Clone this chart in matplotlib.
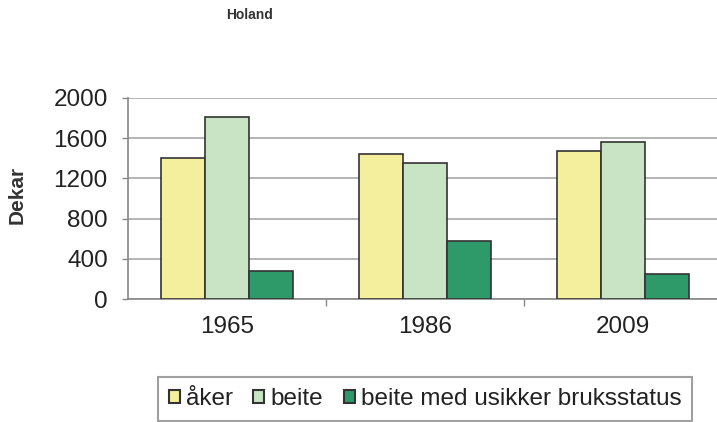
import matplotlib
matplotlib.use("Agg")
import matplotlib.pyplot as plt
import numpy as np

plt.rcParams['font.family'] = ['Liberation Sans', 'DejaVu Sans']

years = ["1965", "1986", "2009"]
series_names = ["åker", "beite", "beite med usikker bruksstatus"]
aker = [1400, 1440, 1470]
beite = [1810, 1350, 1560]
usikker = [280, 580, 250]
yticks = [0, 400, 800, 1200, 1600, 2000]

colors = ["#F3EF9C", "#C8E4C4", "#2E9A6A"]

fig = plt.figure(figsize=(7.17, 4.22), dpi=100)
fig.patch.set_facecolor("white")
ax = fig.add_axes([128/717, 1-299/422, 1-128/717, (299-98)/422])

x = np.arange(len(years))
w = 0.222
for i, (vals, name, c) in enumerate(zip([aker, beite, usikker], series_names, colors)):
    ax.bar(x + (i-1)*w, vals, width=w, color=c, edgecolor="#333333", linewidth=1.2,
           label=name, zorder=3)

ax.set_xlim(-0.5, -0.5 + (717-128)/198)
ax.set_ylim(0, 2000)
ax.set_yticks(yticks)
ax.set_yticklabels([str(v) for v in yticks], fontsize=17.5, color="#222222")
ax.yaxis.grid(True, color="#A8A8A8", linewidth=1.2, zorder=0)
ax.set_xticks(x)
ax.set_xticklabels(years, fontsize=17.5, color="#222222")
ax.tick_params(axis='x', length=0, pad=12)
ax.set_xticks([0.5, 1.5], minor=True)
ax.tick_params(axis='x', which='minor', length=5, color="#888888", width=1)
ax.tick_params(axis='y', length=4.5, color="#888888", width=1, pad=10, direction='out')

for s in ["top", "right"]:
    ax.spines[s].set_visible(False)
for s in ["left", "bottom"]:
    ax.spines[s].set_color("#888888")
    ax.spines[s].set_linewidth(1.2)

fig.text(17/717, 1-195/422, "Dekar", fontsize=15, fontweight="bold", color="#333333",
         rotation=90, ha="center", va="center")
fig.text(250/717, 1-15/422, "Holand", fontsize=10, fontweight="bold", color="#333333",
         ha="center", va="center")

leg = fig.legend(loc="upper center", bbox_to_anchor=(425/717, 1-377/422), ncol=3,
                 fontsize=17.5, frameon=True, fancybox=False, edgecolor="#888888",
                 handlelength=0.45, handleheight=0.45, handletextpad=0.25,
                 columnspacing=0.85, borderpad=0.45, borderaxespad=0)
leg.get_frame().set_linewidth(1.5)
for t in leg.get_texts():
    t.set_color("#222222")
for h in leg.legend_handles:
    h.set_edgecolor("#333333")
    h.set_linewidth(1.5)

fig.savefig("out.png", dpi=100, facecolor="white")
